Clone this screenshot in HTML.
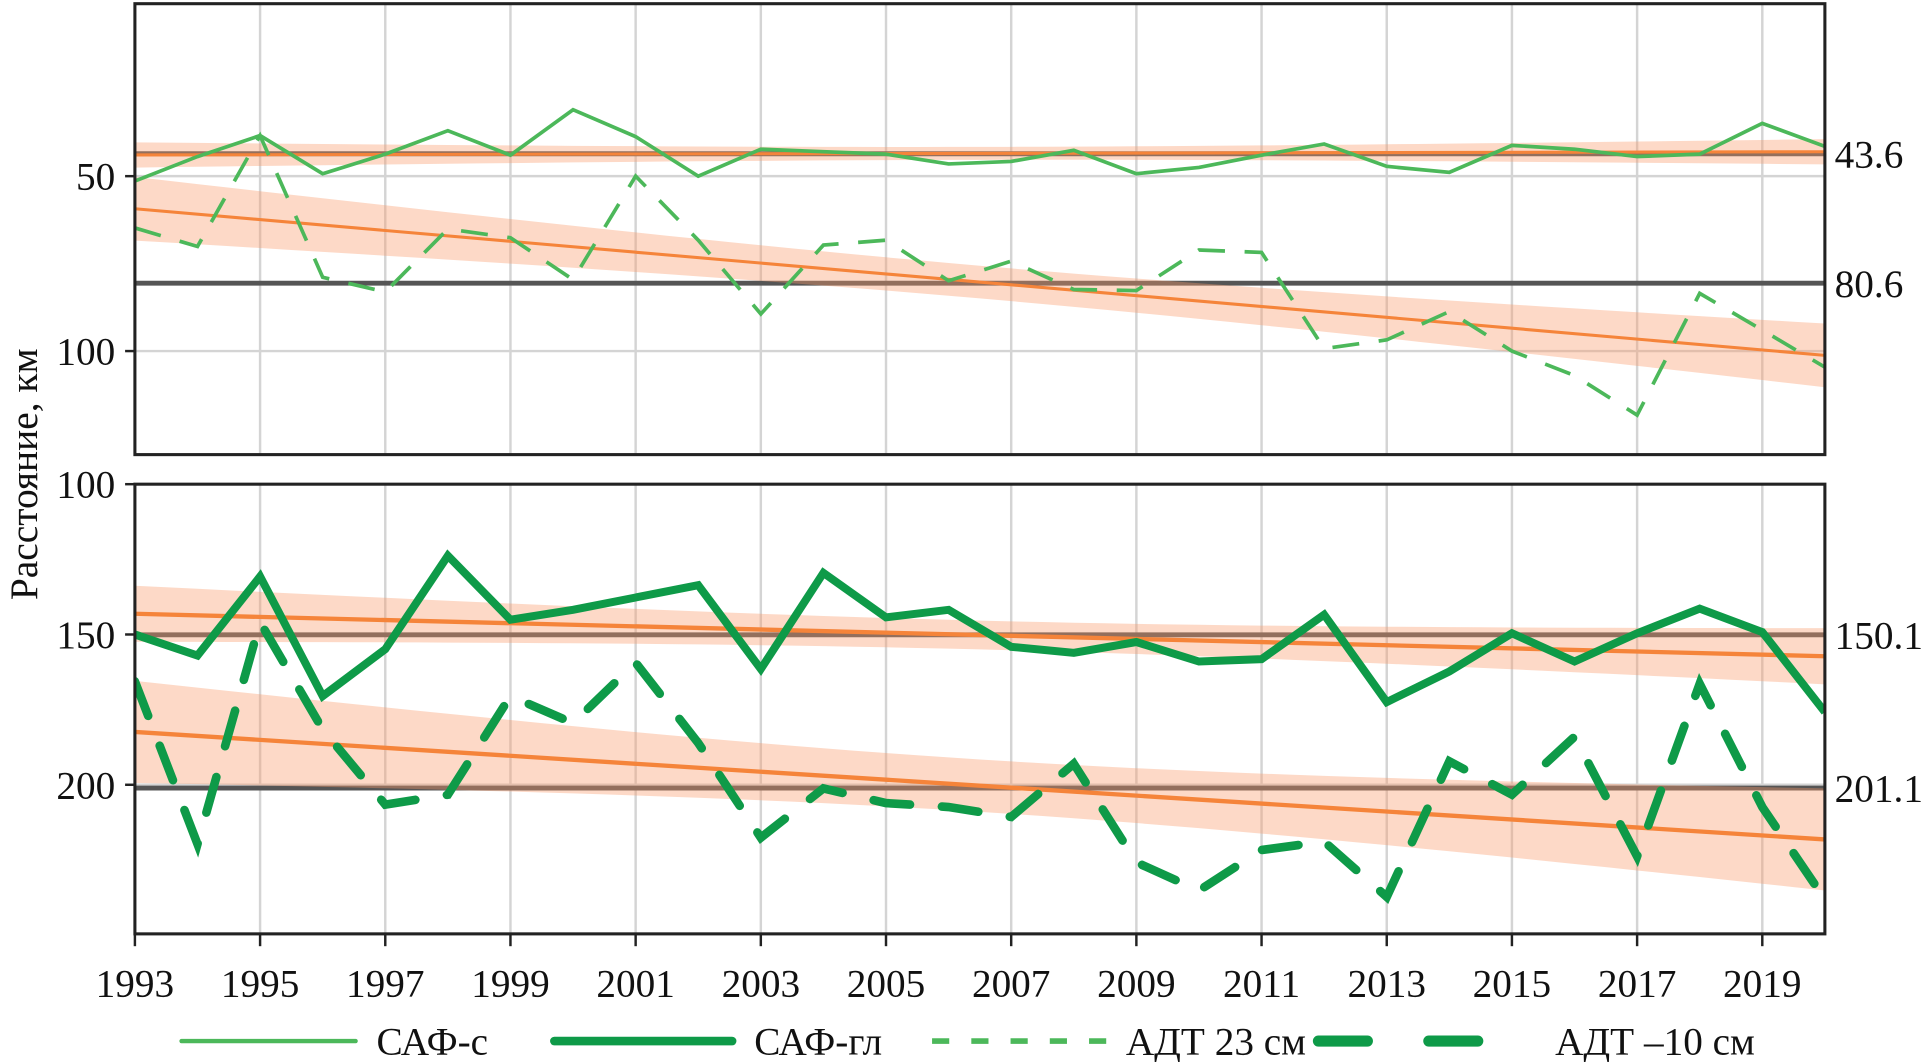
<!DOCTYPE html>
<html><head><meta charset="utf-8">
<style>
html,body{margin:0;padding:0;background:#fff;}
svg{display:block;}
text{font-family:"Liberation Serif","Noto Serif CJK SC",serif;fill:#111;}
</style></head>
<body>
<svg id="chart" width="1923" height="1062" viewBox="0 0 1568 862" preserveAspectRatio="none" xmlns="http://www.w3.org/2000/svg">
</svg>
<script>
// ---- data ----
const years = [1993,1994,1995,1996,1997,1998,1999,2000,2001,2002,2003,2004,2005,2006,2007,2008,2009,2010,2011,2012,2013,2014,2015,2016,2017,2018,2019,2020];
const safS = [51.4,44.4,38.4,49.3,43.7,37.0,44.0,31.0,38.7,50.0,42.3,43.0,43.7,46.5,45.8,42.6,49.3,47.5,44.0,40.8,47.2,48.9,41.2,42.3,44.4,43.7,34.9,41.5];
const adt23 = [64.8,70.1,38.4,78.9,83.1,65.1,67.6,79.6,50.0,68.3,89.4,69.7,68.3,79.9,74.3,82.4,82.7,71.1,71.8,99.3,96.8,88.7,100.0,107.0,118.3,83.5,94.0,104.6];
const safGl = [150.0,157.0,130.7,170.5,154.9,123.8,145.1,141.8,137.7,133.6,161.5,129.5,144.3,141.8,154.1,156.1,152.5,159.0,158.2,143.4,172.5,162.3,149.6,159.0,149.6,141.4,149.2,175.8];
const adtM10 = [165.6,219.7,145.9,181.6,206.6,203.3,170.5,179.5,159.4,186.1,217.6,201.2,206.1,207.4,210.7,193.0,225.8,235.2,221.7,218.9,237.3,192.2,203.3,184.0,223.8,166.4,207.4,238.1];
const refValues = [43.6, 80.6, 150.1, 201.1];
const refLabels = ["43.6","80.6","150.1","201.1"];
const xTickYears = [1993,1995,1997,1999,2001,2003,2005,2007,2009,2011,2013,2015,2017,2019];
const topTicks = [50,100];
const bottomTicks = [100,150,200];
const legendLabels = ["САФ-с","САФ-гл","АДТ 23 см","АДТ –10 см"];

// ---- layout ----
const svg = document.getElementById('chart');
const NS = 'http://www.w3.org/2000/svg';
const L=110, R=1488, FS=32;
const topP = {y0:3, y1:369, v0:0.7, v1:129.6};
const botP = {y0:393, y1:758, v0:100, v1:249.6};
const x = t => L + (t-1993)/(2020-1993)*(R-L);
const yT = v => topP.y0 + (v-topP.v0)/(topP.v1-topP.v0)*(topP.y1-topP.y0);
const yB = v => botP.y0 + (v-botP.v0)/(botP.v1-botP.v0)*(botP.y1-botP.y0);

function mk(tag, attrs, parent){
  const el=document.createElementNS(NS,tag);
  for(const k in attrs) el.setAttribute(k,attrs[k]);
  (parent||svg).appendChild(el);
  return el;
}
function regress(vals){
  const n=vals.length; let mx=0,my=0;
  years.forEach((t,i)=>{mx+=t;my+=vals[i];}); mx/=n; my/=n;
  let sxy=0,sxx=0; years.forEach((t,i)=>{sxy+=(t-mx)*(vals[i]-my);sxx+=(t-mx)*(t-mx);});
  const b=sxy/sxx; const a=my-b*mx;
  let sse=0; years.forEach((t,i)=>{const r=vals[i]-(a+b*t);sse+=r*r;});
  const s=Math.sqrt(sse/(n-2));
  return {f:t=>a+b*t, hw:t=>2.06*s*Math.sqrt(1/n+(t-mx)*(t-mx)/sxx)};
}

function panel(p, name){
  const g=mk('g',{});
  
  
  const cp=mk('clipPath',{id:'clip-'+name},g);
  mk('rect',{x:L,y:p.y0,width:R-L,height:p.y1-p.y0},cp);
  xTickYears.forEach(t=>{
    const ln=mk('line',{x1:x(t),x2:x(t),y1:p.y0,y2:p.y1,stroke:'#d4d4d4','stroke-width':2},g);
    
    
  });
  return g;
}
const gTop=panel(topP,'top');
const gBot=panel(botP,'bottom');
topTicks.forEach(v=>{
  const ln=mk('line',{x1:L,x2:R,y1:yT(v),y2:yT(v),stroke:'#d4d4d4','stroke-width':2},gTop);
  
  
});
bottomTicks.forEach(v=>{
  const ln=mk('line',{x1:L,x2:R,y1:yB(v),y2:yB(v),stroke:'#d4d4d4','stroke-width':2},gBot);
  
  
});

// reference (mean) lines
const refPanels=[[gTop,yT],[gTop,yT],[gBot,yB],[gBot,yB]];
refValues.forEach((v,i)=>{
  const g=refPanels[i][0], yf=refPanels[i][1];
  const ln=mk('line',{x1:L,x2:R,y1:yf(v),y2:yf(v),stroke:'#555','stroke-width':4},g);
  
  
  const tx=mk('text',{x:1496,y:yf(v)+11,'font-size':FS});
  tx.textContent=refLabels[i];
  
  
});

// trends + bands
const seriesDefs=[
  {vals:safS, g:gTop, yf:yT, name:'saf-s', color:'#4cb85a', w:3, dash:null, clip:'top'},
  {vals:adt23, g:gTop, yf:yT, name:'adt-23', color:'#4cb85a', w:3, dash:'22 16', clip:'top'},
  {vals:safGl, g:gBot, yf:yB, name:'saf-gl', color:'#0e9a48', w:6.5, dash:null, clip:'bottom'},
  {vals:adtM10, g:gBot, yf:yB, name:'adt-minus10', color:'#0e9a48', w:7, dash:'30 26', clip:'bottom'}
];
seriesDefs.forEach(s=>{
  const r=regress(s.vals);
  const steps=[]; for(let t=1993;t<=2020.001;t+=0.5) steps.push(t);
  let d=steps.map((t,i)=>(i?'L':'M')+x(t)+','+s.yf(r.f(t)-r.hw(t))).join(' ');
  d+=' '+steps.slice().reverse().map(t=>'L'+x(t)+','+s.yf(r.f(t)+r.hw(t))).join(' ')+' Z';
  const band=mk('path',{d:d,fill:'#fb9c6c','fill-opacity':0.38,'clip-path':'url(#clip-'+s.clip+')'},s.g);
  
  
  const tl=mk('line',{x1:x(1993),x2:x(2020),y1:s.yf(r.f(1993)),y2:s.yf(r.f(2020)),stroke:'#f5843a','stroke-width':s.w>4?3.5:2.5},s.g);
  
  
});
seriesDefs.forEach(s=>{
  const d=years.map((t,i)=>(i?'L':'M')+x(t)+','+s.yf(s.vals[i])).join(' ');
  const attrs={d:d,fill:'none',stroke:s.color,'stroke-width':s.w,'stroke-linejoin':'miter','clip-path':'url(#clip-'+s.clip+')'};
  if(s.dash){attrs['stroke-dasharray']=s.dash;attrs['stroke-linecap']=s.w>4?'round':'butt';}
  const p=mk('path',attrs,s.g);
  
  
});

// frames
[topP,botP].forEach(p=>{
  const f=mk('rect',{x:L,y:p.y0,width:R-L,height:p.y1-p.y0,fill:'none',stroke:'#222','stroke-width':2.5});
  
  
});
// y ticks
topTicks.forEach(v=>{
  const t=mk('line',{x1:L-8,x2:L,y1:yT(v),y2:yT(v),stroke:'#222','stroke-width':2});
  
  
  const tx=mk('text',{x:L-16,y:yT(v)+11,'font-size':FS,'text-anchor':'end'});
  tx.textContent=v;
  
  
});
bottomTicks.forEach(v=>{
  const t=mk('line',{x1:L-8,x2:L,y1:yB(v),y2:yB(v),stroke:'#222','stroke-width':2});
  
  
  const tx=mk('text',{x:L-16,y:yB(v)+11,'font-size':FS,'text-anchor':'end'});
  tx.textContent=v;
  
  
});
// x ticks
xTickYears.forEach(t=>{
  const tk=mk('line',{x1:x(t),x2:x(t),y1:botP.y1,y2:botP.y1+10,stroke:'#222','stroke-width':2});
  
  
  const tx=mk('text',{x:x(t),y:809,'font-size':FS,'text-anchor':'middle'});
  tx.textContent=t;
  
  
});
// y title
const yt=mk('text',{x:0,y:0,'font-size':FS,'text-anchor':'middle',transform:'translate(30,385) rotate(-90)'});
yt.textContent='Расстояние, км';



// legend
const legendItems=[
  {x1:148,x2:290,tx:307,color:'#4cb85a',w:3.5,dash:null,cap:'round'},
  {x1:452,x2:597,tx:615,color:'#0e9a48',w:7,dash:null,cap:'round'},
  {x1:760,x2:905,tx:918,color:'#4cb85a',w:4.5,dash:'14 18',cap:'butt'},
  {x1:1075,x2:1205,tx:1268,color:'#0e9a48',w:9,dash:'40 50',cap:'round'}
];
legendItems.forEach((it,i)=>{
  const g=mk('g',{});
  
  
  const a={x1:it.x1,x2:it.x2,y1:845,y2:845,stroke:it.color,'stroke-width':it.w,'stroke-linecap':it.cap};
  if(it.dash) a['stroke-dasharray']=it.dash;
  const ln=mk('line',a,g);
  
  
  const tx=mk('text',{x:it.tx,y:856,'font-size':FS},g);
  tx.textContent=legendLabels[i];
  
  
});
</script>
</body></html>
